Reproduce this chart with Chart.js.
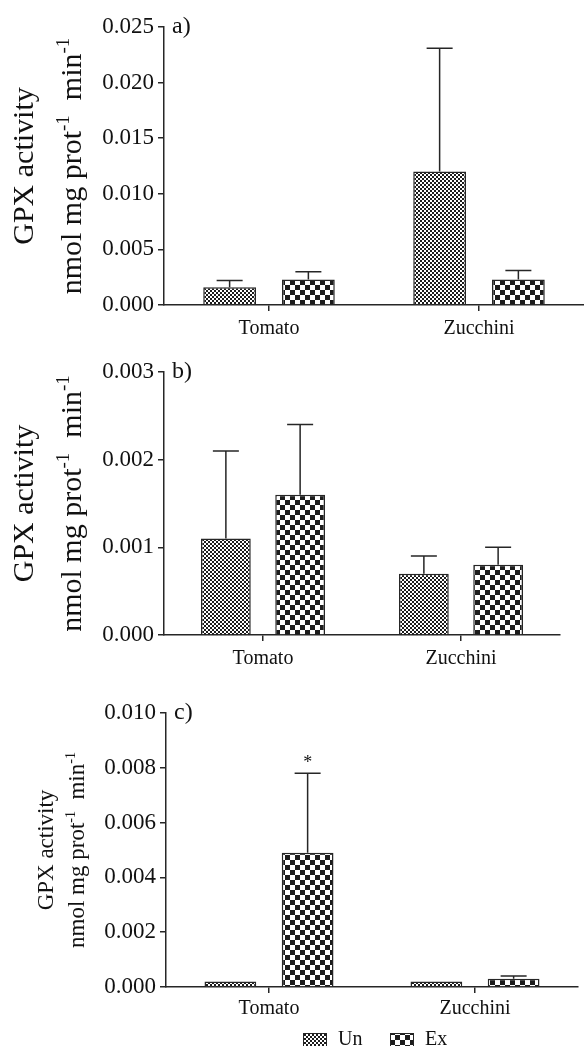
<!DOCTYPE html>
<html>
<head>
<meta charset="utf-8">
<title>GPX activity</title>
<script src="https://cdn.jsdelivr.net/npm/chart.js@4.4.1/dist/chart.umd.min.js"></script>
<style>
  html, body { margin: 0; padding: 0; background: #fff; }
  #wrap { position: relative; width: 584px; height: 1046px; overflow: hidden; }
  .panel { position: absolute; left: 0; width: 584px; }
  canvas { display: block; }
</style>
</head>
<body>
<div id="wrap">
  <div class="panel" style="top:0"><canvas id="chartA" width="584" height="345"></canvas></div>
  <div class="panel" style="top:345px"><canvas id="chartB" width="584" height="325"></canvas></div>
  <div class="panel" style="top:670px"><canvas id="chartC" width="584" height="376"></canvas></div>
</div>
<script>
// data (mean and SD per group)
const categories = ['Tomato', 'Zucchini'];
const seriesNames = ['Un', 'Ex'];

const aUn = [0.0016, 0.0120];
const aUnSd = [0.0006, 0.0111];
const aEx = [0.0023, 0.0023];
const aExSd = [0.0007, 0.0008];

const bUn = [0.0011, 0.0007];
const bUnSd = [0.0010, 0.0002];
const bEx = [0.0016, 0.0008];
const bExSd = [0.0008, 0.0002];

const cUn = [0.0002, 0.0002];
const cUnSd = [0, 0];
const cEx = [0.0049, 0.0003];
const cExSd = [0.0029, 0.0001];
const cExMarks = ['*', ''];

const FONT = '"Liberation Serif", "Times New Roman", serif';
const INK = '#262626';

function makePattern(cell) {
    const tile = document.createElement('canvas');
    tile.width = tile.height = cell * 2;
    const g = tile.getContext('2d');
    g.fillStyle = '#fff';
    g.fillRect(0, 0, cell * 2, cell * 2);
    g.fillStyle = '#1c1c1c';
    g.fillRect(0, 0, cell, cell);
    g.fillRect(cell, cell, cell, cell);
    return g.createPattern(tile, 'repeat');
}

const unPattern = makePattern(2);
const exPattern = makePattern(5);

// superscript-aware text, drawn rotated along the y axis
function drawRich(ctx, parts, size, x, y) {
    const supSize = Math.round(size * 0.62);
    const widthOf = p => {
        ctx.font = `${p.sup ? supSize : size}px ${FONT}`;
        return ctx.measureText(p.t).width;
    };
    const total = parts.reduce((s, p) => s + widthOf(p), 0);
    ctx.save();
    ctx.translate(x, y);
    ctx.rotate(-Math.PI / 2);
    ctx.fillStyle = '#111';
    ctx.textBaseline = 'alphabetic';
    ctx.textAlign = 'left';
    let cx = -total / 2;
    parts.forEach(p => {
        const w = widthOf(p);
        ctx.fillText(p.t, cx, p.sup ? -size * 0.4 : 0);
        cx += w;
    });
    ctx.restore();
}

const errorBars = {
    id: 'errorBars',
    afterDatasetsDraw(chart, args, opts) {
        const ctx = chart.ctx;
        const yScale = chart.scales.y;
        ctx.save();
        ctx.strokeStyle = INK;
        ctx.lineWidth = 1.5;
        chart.data.datasets.forEach((ds, i) => {
            chart.getDatasetMeta(i).data.forEach((bar, j) => {
                const sd = ds.sd[j];
                if (!sd) return;
                const top = yScale.getPixelForValue(ds.data[j] + sd);
                ctx.beginPath();
                ctx.moveTo(bar.x, bar.y);
                ctx.lineTo(bar.x, top);
                ctx.moveTo(bar.x - opts.cap / 2, top);
                ctx.lineTo(bar.x + opts.cap / 2, top);
                ctx.stroke();
                if (ds.marks && ds.marks[j]) {
                    ctx.fillStyle = '#111';
                    ctx.font = `18px ${FONT}`;
                    ctx.textAlign = 'center';
                    ctx.textBaseline = 'middle';
                    ctx.fillText(ds.marks[j], bar.x, top - 10);
                }
            });
        });
        ctx.restore();
    }
};

const axisTitle = {
    id: 'axisTitle',
    afterDraw(chart, args, opts) {
        const area = chart.chartArea;
        const mid = (area.top + area.bottom) / 2;
        const ctx = chart.ctx;
        drawRich(ctx, [{ t: 'GPX activity' }], opts.size, opts.x1, mid);
        drawRich(ctx, [
            { t: 'nmol mg prot' }, { t: '-1', sup: true },
            { t: '  min' }, { t: '-1', sup: true }
        ], opts.size, opts.x2, mid);
    }
};

const panelTag = {
    id: 'panelTag',
    afterDraw(chart, args, opts) {
        const ctx = chart.ctx;
        ctx.save();
        ctx.fillStyle = '#111';
        ctx.font = `24px ${FONT}`;
        ctx.textBaseline = 'middle';
        ctx.textAlign = 'left';
        ctx.fillText(opts.text, chart.chartArea.left + 8, chart.chartArea.top);
        ctx.restore();
    }
};

const patternLegend = {
    id: 'patternLegend',
    afterDraw(chart, args, opts) {
        if (!opts.show) return;
        const ctx = chart.ctx;
        ctx.save();
        chart.data.datasets.forEach((ds, i) => {
            const x = opts.x[i];
            ctx.fillStyle = ds.backgroundColor;
            ctx.fillRect(x, opts.y - 7, 24, 14);
            ctx.strokeStyle = INK;
            ctx.lineWidth = 1;
            ctx.strokeRect(x + 0.5, opts.y - 6.5, 23, 13);
            ctx.fillStyle = '#111';
            ctx.font = `20px ${FONT}`;
            ctx.textBaseline = 'middle';
            ctx.textAlign = 'left';
            ctx.fillText(ds.label, x + 35, opts.y);
        });
        ctx.restore();
    }
};

function buildPanel(id, cfg) {
    const axisStyle = {
        grid: { display: true, drawOnChartArea: false, drawTicks: true, tickLength: 6, color: INK, lineWidth: 1.5 },
        border: { display: true, color: INK, width: 1.5 }
    };
    return new Chart(document.getElementById(id), {
        type: 'bar',
        data: {
            labels: categories,
            datasets: [
                {
                    label: seriesNames[0], data: cfg.un, sd: cfg.unSd,
                    backgroundColor: unPattern, borderColor: INK, borderWidth: 1.5,
                    categoryPercentage: 0.75, barPercentage: 0.67
                },
                {
                    label: seriesNames[1], data: cfg.ex, sd: cfg.exSd, marks: cfg.exMarks,
                    backgroundColor: exPattern, borderColor: INK, borderWidth: 1.5,
                    categoryPercentage: 0.75, barPercentage: 0.67
                }
            ]
        },
        options: {
            responsive: false,
            animation: false,
            layout: { padding: { top: cfg.top, right: cfg.right, bottom: 0, left: 0 } },
            plugins: {
                legend: { display: false },
                tooltip: { enabled: false },
                errorBars: { cap: 26 },
                axisTitle: { size: cfg.titleSize, x1: cfg.titleX[0], x2: cfg.titleX[1] },
                panelTag: { text: cfg.tag },
                patternLegend: cfg.legend || { show: false }
            },
            scales: {
                x: {
                    ...axisStyle,
                    grid: { ...axisStyle.grid, offset: false },
                    ticks: { font: { family: FONT, size: 20 }, color: '#111', padding: cfg.xPad, maxRotation: 0 },
                    afterFit(scale) { scale.height = cfg.xHeight; }
                },
                y: {
                    ...axisStyle,
                    min: 0,
                    max: cfg.max,
                    ticks: {
                        stepSize: cfg.step,
                        font: { family: FONT, size: 23 },
                        color: '#111',
                        padding: 4,
                        callback: v => v.toFixed(3)
                    },
                    afterFit(scale) { scale.width = cfg.left; }
                }
            }
        },
        plugins: [errorBars, axisTitle, panelTag, patternLegend]
    });
}

document.addEventListener('DOMContentLoaded', () => {
    buildPanel('chartA', {
        un: aUn, unSd: aUnSd, ex: aEx, exSd: aExSd,
        max: 0.025, step: 0.005, tag: 'a)',
        top: 27, right: 0, left: 164, xHeight: 40, xPad: 6,
        titleSize: 30, titleX: [33, 81]
    });
    buildPanel('chartB', {
        un: bUn, unSd: bUnSd, ex: bEx, exSd: bExSd,
        max: 0.003, step: 0.001, tag: 'b)',
        top: 27, right: 24, left: 164, xHeight: 35, xPad: 6,
        titleSize: 30, titleX: [33, 81]
    });
    buildPanel('chartC', {
        un: cUn, unSd: cUnSd, ex: cEx, exSd: cExSd, exMarks: cExMarks,
        max: 0.010, step: 0.002, tag: 'c)',
        top: 43, right: 6, left: 166, xHeight: 59, xPad: 4,
        titleSize: 23, titleX: [53, 84],
        legend: { show: true, x: [303, 390], y: 370 }
    });
});
</script>
</body>
</html>
